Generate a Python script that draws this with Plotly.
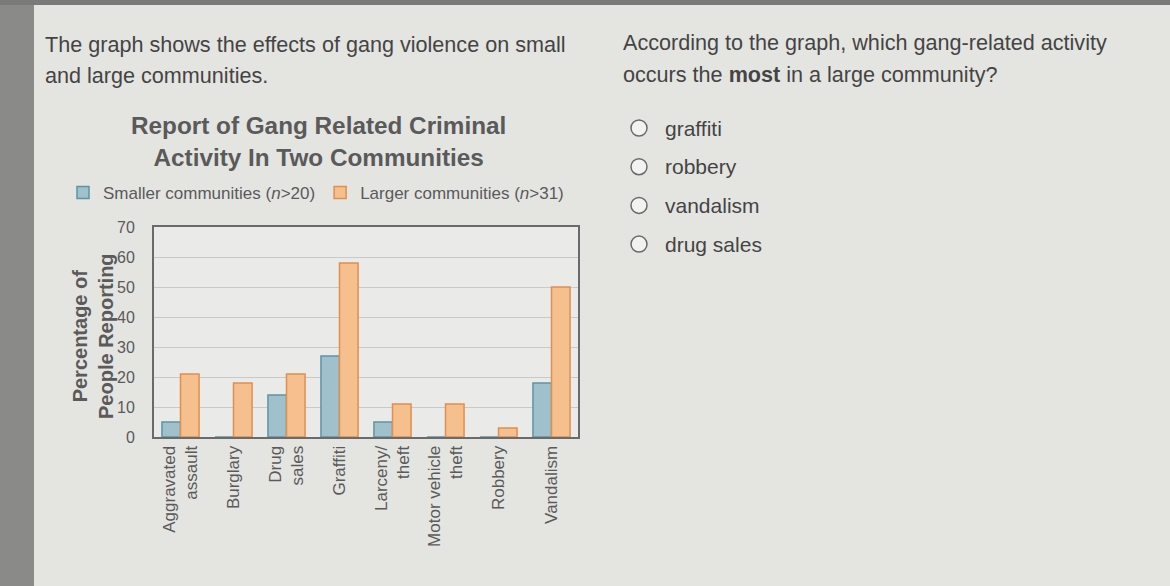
import plotly.graph_objects as go

W, H = 1170, 586

categories = ["Aggravated<br>assault", "Burglary", "Drug<br>sales", "Graffiti",
              "Larceny/<br>theft", "Motor vehicle<br>theft", "Robbery", "Vandalism"]
smaller = [5, 0, 14, 27, 5, 0, 0, 18]
larger = [21, 18, 21, 58, 11, 11, 3, 50]
y_ticks = [0, 10, 20, 30, 40, 50, 60, 70]

intro_lines = ["The graph shows the effects of gang violence on small", "and large communities."]
question_lines = ["According to the graph, which gang-related activity",
                  "occurs the <b>most</b> in a large community?"]
options = ["graffiti", "robbery", "vandalism", "drug sales"]

font = "Liberation Sans, Arial, sans-serif"
grey = "#5a5a5a"
text_col = "#444"


def px_x(v):
    return v / W


def px_y(v):
    return 1 - v / H


fig = go.Figure()
fig.add_trace(go.Bar(
    x=categories, y=smaller, name="Smaller communities (<i>n</i>>20)",
    marker=dict(color="#a0c1cb", line=dict(color="#5f93a4", width=1.5)),
))
fig.add_trace(go.Bar(
    x=categories, y=larger, name="Larger communities (<i>n</i>>31)",
    marker=dict(color="#f5c08d", line=dict(color="#de8f52", width=1.5)),
))

fig.update_layout(
    width=W, height=H,
    margin=dict(l=0, r=0, t=0, b=0, pad=0, autoexpand=False),
    paper_bgcolor="#e4e4e1",
    plot_bgcolor="#eaeae8",
    font=dict(family=font, color=grey),
    barmode="group", bargap=0.3, bargroupgap=0,
    showlegend=True,
    legend=dict(orientation="h", x=px_x(63), y=px_y(193), xanchor="left", yanchor="middle",
                font=dict(size=17, color=grey), bgcolor="rgba(0,0,0,0)",
                itemwidth=30, traceorder="normal"),
    xaxis=dict(domain=[px_x(154), px_x(578)], tickangle=-90, automargin=False,
               tickfont=dict(size=17, color=grey), showline=True, linecolor="#6a6a6a",
               linewidth=2, mirror=True, showgrid=False, ticks="", layer="above traces"),
    yaxis=dict(domain=[px_y(437), px_y(227)], range=[0, 70], tickvals=y_ticks, automargin=False,
               tickfont=dict(size=16, color=grey), showline=True, linecolor="#6a6a6a",
               linewidth=2, mirror=True, gridcolor="#c9c9c7", gridwidth=1,
               zeroline=False, ticklabelstandoff=14),
)

# y axis title
fig.add_annotation(text="<b>Percentage of<br>People Reporting</b>", textangle=-90,
                   xref="paper", yref="paper", x=px_x(93), y=px_y(336),
                   xanchor="center", yanchor="middle", showarrow=False,
                   font=dict(size=20, color=grey))

# dark screen edges
fig.add_shape(type="rect", xref="paper", yref="paper", x0=0, x1=px_x(34), y0=0, y1=1,
              fillcolor="#8a8a88", line_width=0, layer="below")
fig.add_shape(type="rect", xref="paper", yref="paper", x0=0, x1=1, y0=px_y(5), y1=1,
              fillcolor="#7a7a78", line_width=0, layer="below")

# question text
for i, line in enumerate(intro_lines):
    fig.add_annotation(text=line, xref="paper", yref="paper", x=px_x(43), y=px_y(44 + 31 * i),
                       xanchor="left", yanchor="middle", showarrow=False,
                       font=dict(size=21.6, color=text_col))
for i, line in enumerate(question_lines):
    fig.add_annotation(text=line, xref="paper", yref="paper", x=px_x(621), y=px_y(43 + 31 * i),
                       xanchor="left", yanchor="middle", showarrow=False,
                       font=dict(size=21.6, color=text_col))

# chart title
fig.add_annotation(text="<b>Report of Gang Related Criminal<br>Activity In Two Communities</b>",
                   xref="paper", yref="paper", x=px_x(318), y=px_y(141), xanchor="center", yanchor="middle",
                   showarrow=False, font=dict(size=24.3, color=grey))

# answer choices
for i, opt in enumerate(options):
    cy = 128 + i * 38.7
    fig.add_shape(type="circle", xref="paper", yref="paper",
                  x0=px_x(631), x1=px_x(647), y0=px_y(cy + 8), y1=px_y(cy - 8),
                  line=dict(color="#6a6a6a", width=1.5), fillcolor="#f2f2f0")
    fig.add_annotation(text=opt, xref="paper", yref="paper", x=px_x(663), y=px_y(cy),
                       xanchor="left", yanchor="middle", showarrow=False,
                       font=dict(size=21, color=text_col))

fig.write_html("out.html", config={"displayModeBar": False},
               post_script="document.body.style.margin='0';")
